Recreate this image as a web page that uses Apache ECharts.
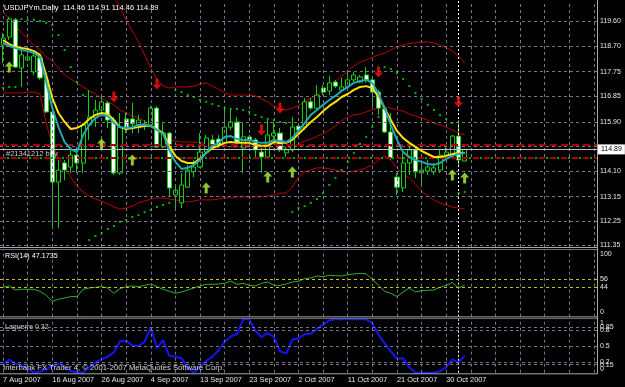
<!DOCTYPE html>
<html><head><meta charset="utf-8">
<script src="https://cdn.jsdelivr.net/npm/echarts@6/dist/echarts.min.js"></script>
<style>html,body{margin:0;padding:0;background:#000;}#c{width:625px;height:387px;}</style>
</head><body><div id="c"></div>
<script>
// ---------------- DATA ----------------
const symbolName = 'USDJPYm';
const timeframe = 'Daily';
const dates = ['7 Aug 2007','8 Aug 2007','9 Aug 2007','10 Aug 2007','12 Aug 2007','13 Aug 2007','14 Aug 2007','15 Aug 2007','16 Aug 2007','17 Aug 2007','19 Aug 2007','20 Aug 2007','21 Aug 2007','22 Aug 2007','23 Aug 2007','24 Aug 2007','26 Aug 2007','27 Aug 2007','28 Aug 2007','29 Aug 2007','30 Aug 2007','31 Aug 2007','2 Sep 2007','3 Sep 2007','4 Sep 2007','5 Sep 2007','6 Sep 2007','7 Sep 2007','9 Sep 2007','10 Sep 2007','11 Sep 2007','12 Sep 2007','13 Sep 2007','14 Sep 2007','16 Sep 2007','17 Sep 2007','18 Sep 2007','19 Sep 2007','20 Sep 2007','21 Sep 2007','23 Sep 2007','24 Sep 2007','25 Sep 2007','26 Sep 2007','27 Sep 2007','28 Sep 2007','30 Sep 2007','1 Oct 2007','2 Oct 2007','3 Oct 2007','4 Oct 2007','5 Oct 2007','7 Oct 2007','8 Oct 2007','9 Oct 2007','10 Oct 2007','11 Oct 2007','12 Oct 2007','14 Oct 2007','15 Oct 2007','16 Oct 2007','17 Oct 2007','18 Oct 2007','19 Oct 2007','21 Oct 2007','22 Oct 2007','23 Oct 2007','24 Oct 2007','25 Oct 2007','26 Oct 2007','28 Oct 2007','29 Oct 2007','30 Oct 2007','31 Oct 2007','1 Nov 2007','2 Nov 2007'];
// [open, close, low, high]
const candles = [
[118.73,118.99,118.07,119.18],[119.03,119.69,118.92,119.77],[119.66,117.92,117.89,119.73],[117.89,118.37,117.19,118.66],
[118.18,118.29,118.14,118.37],[117.74,118.33,117.63,118.44],[118.26,117.52,117.45,118.33],[117.45,116.27,116.23,117.52],
[116.27,113.69,111.96,116.34],[113.69,114.13,112.00,114.50],[114.39,114.13,113.76,114.50],[114.24,114.68,114.02,114.98],
[114.68,114.39,114.02,114.98],[114.39,115.79,114.02,115.86],[115.79,116.08,115.24,117.08],[116.05,116.34,115.71,116.71],
[116.34,116.64,116.27,116.82],[116.60,115.97,115.68,116.67],[115.97,114.02,113.95,116.08],[114.02,115.71,113.95,116.23],
[116.01,115.71,115.49,116.23],[116.01,115.83,115.49,116.60],[115.79,115.97,115.49,116.16],[115.79,115.83,115.60,115.97],
[115.79,116.41,115.71,116.49],[116.41,114.98,114.94,116.49],[114.98,115.49,114.94,115.86],[115.49,113.47,113.14,115.53],
[113.21,113.39,112.66,113.58],[112.92,113.58,112.73,114.02],[113.50,114.13,113.47,114.32],[114.06,114.24,113.87,114.50],
[114.24,114.79,114.21,115.49],[114.79,115.31,114.68,115.42],[115.24,114.98,114.87,115.42],[115.27,115.05,114.94,115.42],
[115.13,115.71,114.98,116.41],[115.71,115.90,115.60,116.34],[115.90,115.16,115.13,116.08],[114.94,115.35,114.02,115.86],
[115.35,115.24,114.98,115.42],[115.24,114.87,114.61,115.31],[114.79,114.61,114.02,114.94],[114.61,115.42,114.57,115.97],
[115.38,115.49,115.13,115.90],[115.49,114.87,114.79,115.68],[114.76,114.87,114.61,114.98],[114.87,115.71,114.79,116.08],
[115.75,115.60,115.53,115.86],[115.71,116.64,115.60,116.78],[116.64,116.41,116.34,116.78],[116.41,116.89,116.34,117.26],
[117.15,117.00,116.89,117.26],[117.04,117.34,116.89,117.59],[117.37,117.22,117.15,117.45],[117.08,117.19,117.00,117.52],
[117.19,117.45,117.08,117.74],[117.45,117.63,117.37,117.74],[117.37,117.56,117.34,117.63],[117.63,117.45,117.34,117.92],
[117.45,117.00,116.41,117.52],[117.00,116.41,116.16,117.08],[116.38,115.53,115.49,116.45],[115.53,114.57,114.50,116.23],
[113.87,113.50,113.21,114.02],[113.47,114.39,113.32,114.76],[114.39,114.87,113.95,114.98],[114.87,114.06,113.84,114.94],
[114.02,114.13,113.50,114.50],[114.09,114.24,113.95,114.50],[114.06,114.21,113.95,114.39],[114.13,114.68,114.02,114.87],
[114.68,114.79,114.50,114.98],[114.68,115.38,114.57,115.42],[115.38,114.50,114.32,115.90],[114.46,114.89,114.46,114.91]
];
const maSlow = [118.92,118.77,118.66,118.62,118.59,118.51,118.37,117.63,116.78,116.23,115.90,115.64,115.68,115.79,116.01,116.16,116.23,116.19,115.97,115.71,115.64,115.68,115.71,115.75,115.75,115.64,115.49,115.02,114.65,114.46,114.39,114.39,114.54,114.76,114.94,115.02,115.13,115.16,115.13,115.13,115.13,115.05,115.02,115.02,115.16,115.13,115.13,115.24,115.46,115.68,115.90,116.08,116.30,116.49,116.64,116.82,116.93,117.08,117.19,117.22,117.15,116.82,116.41,115.97,115.57,115.31,115.13,114.98,114.83,114.72,114.61,114.61,114.65,114.72,114.76,114.76];
const maFast = [118.81,118.70,118.62,118.55,118.51,118.44,118.29,117.37,116.41,115.71,115.16,114.90,114.79,115.42,115.79,116.05,116.16,116.12,115.86,115.71,115.68,115.71,115.79,115.79,115.75,115.60,115.46,114.87,114.43,114.17,114.21,114.32,114.50,114.76,115.02,115.13,115.35,115.38,115.27,115.24,115.24,115.16,115.13,115.13,115.24,115.20,115.16,115.31,115.57,115.86,116.16,116.34,116.53,116.71,116.86,117.04,117.19,117.34,117.41,117.45,117.34,116.93,116.41,115.79,115.24,114.79,114.61,114.50,114.43,114.35,114.32,114.39,114.54,114.65,114.72,114.76];
const bandUpper = [122.60,122.58,122.55,122.52,122.50,122.45,122.40,122.30,122.20,122.10,121.95,121.80,121.65,121.50,121.35,121.20,121.00,120.80,120.55,120.10,119.66,119.25,118.85,118.37,117.89,117.48,117.22,117.15,117.19,117.19,117.19,117.22,117.30,117.34,117.22,117.11,116.97,116.89,116.89,116.89,116.89,116.86,116.75,116.64,116.49,116.38,116.34,116.41,116.49,116.67,116.78,116.89,117.08,117.22,117.41,117.59,117.78,117.96,118.11,118.18,118.29,118.37,118.44,118.55,118.66,118.73,118.79,118.81,118.85,118.85,118.81,118.73,118.64,118.51,118.33,118.07];
const bandMiddle = [119.95,119.73,119.43,119.18,118.96,118.73,118.55,118.29,118.15,117.89,117.63,117.48,117.34,117.19,117.04,116.93,116.78,116.64,116.53,116.34,116.23,116.12,116.05,115.94,115.79,115.60,115.42,115.24,115.20,115.16,115.16,115.16,115.13,115.13,115.09,115.05,115.02,114.98,114.98,114.98,114.98,114.98,114.94,114.94,114.94,114.94,114.94,114.98,115.09,115.20,115.27,115.38,115.46,115.60,115.75,115.94,116.08,116.16,116.19,116.27,116.34,116.41,116.45,116.41,116.34,116.30,116.19,116.12,116.05,115.97,115.86,115.79,115.71,115.60,115.49,115.42];
const bandLower = [116.97,116.97,116.97,116.97,117.00,117.00,116.93,115.86,115.05,114.61,114.24,113.87,113.54,113.32,113.17,113.06,112.99,112.88,112.77,112.69,112.73,112.80,112.92,112.99,113.06,113.10,113.10,113.06,113.03,112.99,112.95,112.99,113.03,113.03,113.03,113.06,113.10,113.10,113.14,113.14,113.14,113.14,113.14,113.17,113.21,113.28,113.28,113.50,113.87,114.06,114.13,114.21,114.21,114.17,114.13,114.06,114.06,114.09,114.13,114.21,114.32,114.50,114.65,114.50,114.21,113.98,113.84,113.62,113.36,113.17,113.03,112.92,112.84,112.77,112.73,112.69];
const sar = [117.15,117.19,117.19,119.69,119.66,119.66,119.62,119.55,119.47,119.10,118.55,117.92,117.37,116.89,111.55,111.70,111.81,111.96,112.07,112.22,112.29,112.40,112.47,112.58,112.66,112.77,112.84,112.92,117.08,117.00,116.89,116.82,116.71,116.64,116.56,116.49,116.41,116.38,116.38,116.34,116.27,116.16,116.08,116.01,115.97,115.90,115.86,112.58,112.73,112.80,112.92,113.06,113.28,113.58,113.84,114.13,114.43,114.76,115.09,115.35,115.72,116.08,117.92,117.85,117.70,117.48,117.22,116.97,116.75,116.53,116.34,116.16,116.01,115.86,113.28,113.32];
const upArrows = [[1,117.92],[16,115.09],[21,114.50],[33,113.47],[43,113.87],[47,114.06],[73,113.95],[75,113.84]];
const downArrows = [[18,116.82],[25,117.30],[42,115.60],[45,116.41],[61,117.74],[74,116.64]];
const rsi = [44,46,40,41,41,41,38,32,23,26,28,30,30,41,43,44,45,43,35,42,45,46,45,47,49,45,41,38,35,37,40,43,46,48.5,48.5,49,50,53.5,48.5,50,47,46,50,52,47,47,49,52,53,57,58,61,60,62,61.5,61,63,64,65,64,56,47,38,35,30,37,43,37,39,39.5,40,44,47,51,43,47.1735];
const laguerre = [0.16,0.24,0.17,0.14,0.08,0,0.02,0.07,0.12,0.17,0.10,0.03,0.01,0,0.10,0.19,0.25,0.30,0.38,0.59,0.60,0.51,0.50,0.58,0.85,0.46,0.61,0.32,0.30,0.27,0.10,0,0.11,0.22,0.30,0.42,0.58,0.68,0.72,1,1,0.78,0.67,0.74,0.67,0.40,0.36,0.62,0.64,0.72,0.73,0.82,0.90,0.98,1,1,1,1,1,1,0.93,0.71,0.55,0.40,0.26,0.27,0.10,0,0,0,0,0.03,0.10,0.25,0.19,0.32];
const priceGridLevels = [119.60,118.70,117.75,116.85,115.90,115.00,114.10,113.15,112.25,111.35];
const priceTickLabels = ['119.60','118.70','117.75','116.85','115.90','','114.10','113.15','112.25','111.35'];
const rsiLevels = [56,44];
const rsiTickLabels = [100,56,44,0];
const lagLevels = [0.85,0.8,0.5,0.2,0.15];
const lagTickLabels = [1,0.85,0.8,0.5,0.2,0.15,0];
const bidPrice = 114.89;
const stopLevel = 115.05;
const orderPrice = 114.58;
const orderLabel = '#21341212 buy';
const markerBar = 74;
const copyright = 'Interbank FX Trader 4, \u00a9 2001-2007 MetaQuotes Software Corp.';

// ---------------- LAYOUT / STYLE ----------------
const FONT = '"Liberation Sans",Arial,sans-serif';
const SLOTS = 97;
const cats = dates.concat(new Array(SLOTS - dates.length).fill(''));
const vIdx = []; for (let i = 0; i < SLOTS; i += 4) vIdx.push(i);
const GRIDC = '#74748a';
const HIDDEN = {width: 0, color: 'rgba(0,0,0,0)'};
const W = 597;

const grids = [
  {left: 0, top: 1, width: W, height: 246},
  {left: 0, top: 250, width: W, height: 66.6},
  {left: 0, top: 319.3, width: W, height: 53.4}
];

function xAx(gi, showLabels) {
  return {
    type: 'category', gridIndex: gi, data: cats, boundaryGap: true,
    axisLine: {show: false}, axisTick: {show: false}, splitLine: {show: false},
    axisLabel: showLabels ? {
      show: true, interval: (i, v) => i % 8 === 0 && v !== '', align: 'left', margin: 4,
      color: '#e6e6e6', fontSize: 7.4, fontFamily: FONT
    } : {show: false}
  };
}
function yAx(gi, min, max) {
  return {type: 'value', gridIndex: gi, min, max, show: false, splitLine: {show: false}};
}
const labelBase = {color: '#e6e6e6', fontSize: 7, fontFamily: FONT, position: 'end', distance: 3};

function vGridSeries(gi) {
  return {
    type: 'line', xAxisIndex: gi, yAxisIndex: gi, data: [], z: 1, silent: true,
    markLine: {
      symbol: 'none', silent: true, animation: false,
      label: {show: false},
      lineStyle: {color: GRIDC, type: [3, 3], width: 1},
      data: vIdx.map(i => ({xAxis: i})).concat([{xAxis: markerBar, lineStyle: {color: '#ffffff', type: [2, 2], width: 1}}])
    }
  };
}

const series = [
  vGridSeries(0), vGridSeries(1), vGridSeries(2),
  {
    type: 'line', xAxisIndex: 0, yAxisIndex: 0, data: [], z: 1, silent: true,
    markLine: {
      symbol: 'none', silent: true, animation: false,
      lineStyle: {color: GRIDC, type: [3, 3], width: 1},
      label: Object.assign({}, labelBase, {formatter: '{b}'}),
      data: priceGridLevels.map((v, i) => ({yAxis: v, name: priceTickLabels[i], label: {show: priceTickLabels[i] !== ''}}))
    }
  },
  ...[bandUpper, bandMiddle, bandLower].map(d => ({
    type: 'line', xAxisIndex: 0, yAxisIndex: 0, data: d, symbol: 'none', z: 2,
    lineStyle: {color: '#b80000', width: 1}, silent: true
  })),
  {
    type: 'line', xAxisIndex: 0, yAxisIndex: 0, data: [], z: 3, silent: true,
    markLine: {
      symbol: 'none', silent: true, animation: false, label: {show: false},
      data: [
        {yAxis: stopLevel, lineStyle: {color: '#a80000', type: [7, 4], width: 2}},
        {yAxis: orderPrice, lineStyle: {color: '#a00000', type: [6, 5], width: 2}},
        {yAxis: orderPrice, lineStyle: {color: '#00a800', type: [2, 9], dashOffset: -7, width: 2}}
      ]
    }
  },
  {
    type: 'candlestick', xAxisIndex: 0, yAxisIndex: 0, data: candles, z: 4, barWidth: 4.6, silent: true,
    itemStyle: {color: '#000000', color0: '#ffffff', borderColor: '#10d010', borderColor0: '#10d010', borderColorDoji: '#10d010', borderWidth: 1}
  },
  {
    type: 'line', xAxisIndex: 0, yAxisIndex: 0, data: maSlow, symbol: 'none', z: 5, silent: true,
    lineStyle: {color: '#ffe000', width: 2}
  },
  {
    type: 'line', xAxisIndex: 0, yAxisIndex: 0, data: maFast, symbol: 'none', z: 5, silent: true,
    lineStyle: {color: '#1ea8b8', width: 2}
  },
  {
    type: 'scatter', xAxisIndex: 0, yAxisIndex: 0, data: sar, symbol: 'rect', symbolSize: 2, z: 6, silent: true,
    itemStyle: {color: '#00e000'}
  },
  {
    type: 'scatter', xAxisIndex: 0, yAxisIndex: 0, data: upArrows, z: 6, silent: true,
    symbol: 'path://M4.5,0 L9,5 L6,5 L6,11 L3,11 L3,5 L0,5 Z', symbolSize: [9, 11],
    itemStyle: {color: '#b4f53c'}
  },
  {
    type: 'scatter', xAxisIndex: 0, yAxisIndex: 0, data: downArrows, z: 6, silent: true,
    symbol: 'path://M3,0 L6,0 L6,6 L9,6 L4.5,11 L0,6 L3,6 Z', symbolSize: [9, 11],
    itemStyle: {color: '#ff1010'}
  },
  {
    type: 'line', xAxisIndex: 0, yAxisIndex: 0, data: [], z: 8, silent: true,
    markLine: {
      symbol: 'none', silent: true, animation: false,
      lineStyle: {color: '#c0c0c0', type: 'solid', width: 1},
      label: {position: 'end', distance: 1, formatter: bidPrice.toFixed(2), backgroundColor: '#ffffff', color: '#000000',
        fontSize: 7, fontFamily: FONT, padding: [2, 3, 1, 3]},
      data: [{yAxis: bidPrice}]
    }
  },
  {
    type: 'line', xAxisIndex: 1, yAxisIndex: 1, data: [], z: 1, silent: true,
    markLine: {
      symbol: 'none', silent: true, animation: false,
      label: Object.assign({}, labelBase, {formatter: '{b}'}),
      data: rsiTickLabels.map((v, i) => ({
        yAxis: v, name: String(v),
        lineStyle: rsiLevels.includes(v) ? {color: '#c8c800', type: [3, 3], width: 1} : HIDDEN,
        label: {offset: [0, i === 0 ? 4 : (i === rsiTickLabels.length - 1 ? -5 : 0)]}
      }))
    }
  },
  {
    type: 'line', xAxisIndex: 1, yAxisIndex: 1, data: rsi, symbol: 'none', z: 4, silent: true,
    lineStyle: {color: '#2fb02f', width: 1}
  },
  {
    type: 'line', xAxisIndex: 2, yAxisIndex: 2, data: [], z: 1, silent: true,
    markLine: {
      symbol: 'none', silent: true, animation: false,
      label: Object.assign({}, labelBase, {formatter: '{b}'}),
      data: lagTickLabels.map((v, i) => ({
        yAxis: v, name: String(v),
        lineStyle: lagLevels.includes(v) ? {color: GRIDC, type: [3, 3], width: 1} : HIDDEN,
        label: {offset: [0, i === 0 ? 4 : (i === lagTickLabels.length - 1 ? -4 : 0)]}
      }))
    }
  },
  {
    type: 'line', xAxisIndex: 2, yAxisIndex: 2, data: laguerre, symbol: 'none', z: 4, silent: true, clip: false,
    lineStyle: {color: '#1414f5', width: 2}
  }
];

const last = candles[candles.length - 1];
const header = `${symbolName},${timeframe}  ${last[0].toFixed(2)} ${last[3].toFixed(2)} ${last[2].toFixed(2)} ${last[1].toFixed(2)}`;
const txt = (text, x, y, fill, fs) => ({type: 'text', x, y, z: 100, silent: true,
  style: {text, fill, fontSize: fs, fontFamily: FONT, verticalAlign: 'middle', textVerticalAlign: 'middle'}});
const hl = (y, c) => ({type: 'line', z: 90, silent: true, shape: {x1: 0, y1: y, x2: W + 0.5, y2: y}, style: {stroke: c, lineWidth: 1}});

const graphic = [
  txt(header, 4, 8, '#ffffff', 7.5),
  txt(`RSI(14) ${rsi[rsi.length - 1]}`, 5, 256.5, '#ffffff', 7.2),
  txt(`Laguerre ${laguerre[laguerre.length - 1].toFixed(2)}`, 5, 327.5, '#d0d0d0', 7),
  txt(orderLabel, 6, 154, '#c8c8c8', 7.5),
  txt(copyright, 3, 367.5, '#d8d8d8', 7.7),
  hl(247.5, '#a8a8a8'), hl(249.5, '#707070'),
  hl(316.9, '#a8a8a8'), hl(318.6, '#707070'),
  hl(373.8, '#a8a8a8'),
  {type: 'line', z: 90, silent: true, shape: {x1: W + 0.5, y1: 0, x2: W + 0.5, y2: 374}, style: {stroke: '#a8a8a8', lineWidth: 1}}
];

const chart = echarts.init(document.getElementById('c'), null, {renderer: 'canvas'});
chart.setOption({
  backgroundColor: '#000000',
  animation: false,
  grid: grids,
  xAxis: [xAx(0, false), xAx(1, false), xAx(2, true)],
  yAxis: [yAx(0, 111.295, 120.355), yAx(1, 0, 100), yAx(2, 0, 1)],
  series,
  graphic
});
</script></body></html>
